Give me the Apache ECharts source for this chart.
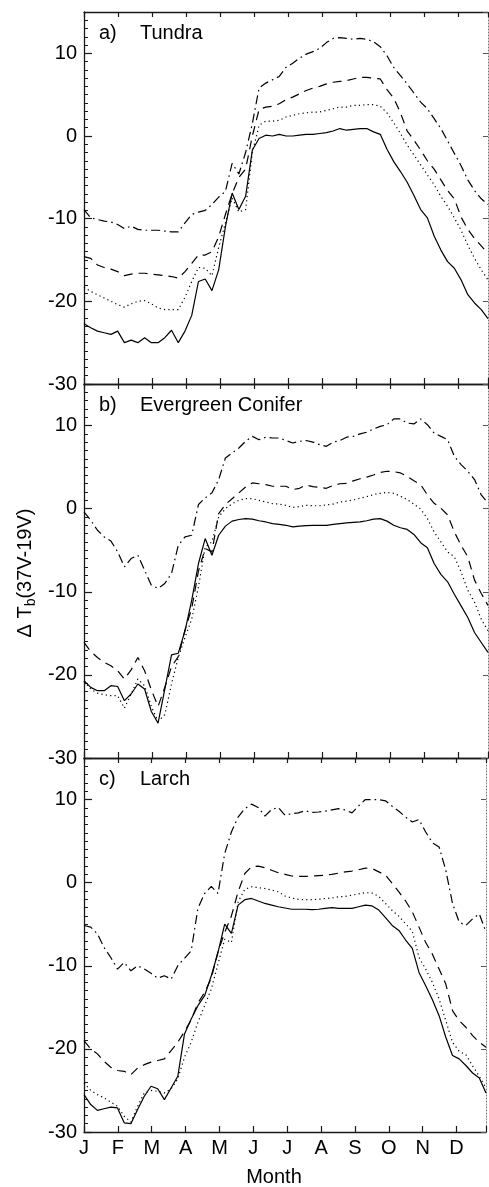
<!DOCTYPE html>
<html><head><meta charset="utf-8">
<script src="https://cdn.jsdelivr.net/npm/echarts@6/dist/echarts.min.js"></script>
<style>html,body{margin:0;padding:0;background:#fff}#c{width:489px;height:1187px}</style>
</head><body><div id="c"></div>
<script>
const days = [1,7,13,19,25,31,37,43,49,55,61,67,73,79,85,91,97,103,109,115,121,127,133,139,145,151,157,163,169,175,181,187,193,199,205,211,217,223,229,235,241,247,253,259,265,271,277,283,289,295,301,307,313,319,325,331,337,343,349,355,361];
const monthLabels = ['J','F','M','A','M','J','J','A','S','O','N','D'];
const panelLetters = ['a)','b)','c)'];
const panelNames = ['Tundra','Evergreen Conifer','Larch'];

const tundraSolid = [-22.7,-23.2,-23.6,-23.8,-24.0,-23.6,-25.0,-24.7,-25.0,-24.4,-25.0,-25.0,-24.4,-23.5,-25.0,-23.6,-21.7,-17.6,-17.3,-18.7,-16.2,-11.0,-6.9,-8.9,-7.3,-1.7,-0.3,0.1,0.0,0.2,0.0,0.0,0.1,0.2,0.2,0.3,0.4,0.6,0.9,0.7,0.8,0.9,0.9,0.5,0.2,-1.6,-3.1,-4.3,-5.6,-7.2,-8.9,-9.9,-12.1,-13.8,-15.2,-16.0,-17.4,-19.2,-20.2,-21.0,-22.1];
const tundraDotted = [-18.3,-18.8,-19.2,-19.6,-20.0,-20.4,-20.7,-20.3,-20.0,-19.9,-20.3,-20.8,-21.0,-21.0,-21.0,-19.5,-17.6,-15.9,-16.0,-16.9,-13.5,-10.5,-7.5,-9.2,-8.9,-2.0,1.3,1.8,1.8,1.9,2.3,2.5,2.7,2.8,2.9,2.9,3.1,3.3,3.5,3.5,3.7,3.7,3.8,3.8,3.6,2.8,1.6,0.3,-1.1,-2.3,-3.5,-4.7,-5.9,-7.3,-8.5,-9.9,-11.4,-13.2,-14.8,-16.2,-17.4];
const tundraDashed = [-14.6,-14.8,-15.6,-15.9,-16.1,-16.4,-16.9,-16.7,-16.6,-16.6,-16.7,-16.8,-16.9,-17.0,-17.2,-16.4,-15.4,-14.4,-14.4,-14.0,-12.2,-9.5,-7.0,-5.0,-4.0,0.0,3.2,3.5,3.6,3.9,4.4,4.7,5.1,5.5,5.8,6.0,6.3,6.5,6.6,6.7,6.9,7.1,7.1,7.0,6.9,5.6,4.6,2.8,0.6,-0.5,-1.7,-3.0,-4.0,-5.3,-6.6,-7.6,-9.8,-11.3,-12.4,-13.3,-14.2];
const tundraDashDot = [-8.9,-9.9,-10.1,-10.3,-10.4,-10.7,-11.2,-10.9,-11.3,-11.4,-11.4,-11.4,-11.5,-11.6,-11.6,-10.5,-9.5,-9.2,-9.0,-8.3,-7.4,-6.7,-3.3,-4.6,-2.0,1.5,5.8,6.4,6.8,7.2,8.3,8.8,9.4,9.9,10.2,10.6,11.3,11.8,11.9,11.8,11.7,11.8,11.7,11.4,10.8,9.7,8.3,7.3,6.3,5.2,4.1,3.3,2.1,0.9,-0.6,-2.1,-3.6,-5.3,-6.6,-7.6,-8.3];

const coniferSolid = [-20.7,-21.5,-21.9,-21.9,-21.3,-21.4,-23.1,-22.3,-21.1,-21.7,-24.4,-25.8,-21.7,-17.6,-17.4,-14.7,-11.0,-6.6,-3.6,-5.6,-3.2,-2.1,-1.5,-1.3,-1.2,-1.25,-1.45,-1.6,-1.8,-1.9,-2.0,-2.2,-2.1,-2.05,-2.0,-2.0,-2.0,-1.9,-1.8,-1.7,-1.65,-1.6,-1.45,-1.25,-1.2,-1.5,-2.0,-2.3,-2.5,-3.1,-4.1,-4.7,-6.6,-7.9,-8.8,-10.3,-11.7,-13.1,-14.9,-16.1,-17.3];
const coniferDotted = [-20.8,-21.7,-22.2,-22.4,-22.5,-22.5,-24.0,-22.3,-20.5,-21.3,-23.8,-25.6,-24.8,-21.1,-17.9,-15.5,-13.3,-9.4,-4.6,-4.0,-1.0,0.0,0.6,1.0,1.2,1.2,1.0,0.8,0.6,0.55,0.4,0.15,0.25,0.4,0.35,0.35,0.45,0.55,0.8,0.9,1.05,1.25,1.45,1.7,1.85,1.95,1.85,1.5,1.1,0.55,-0.05,-1.2,-2.8,-4.0,-5.2,-5.8,-7.6,-9.8,-11.25,-13.3,-14.7];
const coniferDashed = [-16.1,-17.2,-17.9,-18.5,-18.9,-19.5,-20.5,-19.4,-17.9,-19.5,-21.8,-23.8,-21.5,-19.0,-17.8,-14.6,-12.0,-7.5,-4.8,-5.2,-0.6,0.5,1.2,1.9,2.6,3.1,3.0,2.9,2.7,2.7,2.7,2.3,2.45,2.85,2.65,2.55,2.45,2.8,3.0,3.05,3.35,3.6,3.8,4.05,4.35,4.5,4.45,4.3,3.9,3.35,2.9,1.65,0.65,0.05,-0.75,-2.8,-4.4,-5.8,-8.6,-10.2,-11.65];
const coniferDashDot = [-0.4,-1.4,-2.6,-3.4,-3.9,-5.2,-7.0,-6.0,-5.6,-7.4,-9.2,-9.6,-9.0,-7.8,-4.4,-3.4,-3.2,0.5,1.3,1.9,3.5,6.1,6.7,7.3,8.1,8.7,8.3,8.6,8.5,8.5,8.2,7.9,8.1,8.2,8.0,7.7,7.5,8.0,8.2,8.6,8.7,9.0,9.2,9.6,9.9,10.1,10.8,10.8,10.3,10.2,10.8,10.1,9.1,8.7,8.3,6.3,5.3,4.5,3.5,1.65,0.65];

const larchSolid = [-25.5,-26.7,-27.4,-27.2,-27.0,-27.1,-28.9,-29.0,-27.3,-25.7,-24.5,-24.8,-26.1,-24.7,-23.3,-18.2,-16.4,-14.8,-13.6,-11.2,-8.4,-5.0,-6.1,-2.7,-2.05,-1.9,-2.2,-2.5,-2.7,-2.9,-3.05,-3.2,-3.2,-3.2,-3.25,-3.2,-3.1,-3.0,-3.1,-3.1,-3.1,-2.9,-2.7,-2.8,-3.3,-4.2,-5.15,-5.75,-6.9,-7.9,-10.8,-12.4,-14.1,-16.0,-18.6,-20.8,-21.2,-22.0,-22.9,-23.5,-25.3];
const larchDotted = [-24.1,-25.0,-25.5,-25.9,-26.4,-26.9,-28.1,-28.8,-26.9,-25.3,-25.0,-25.1,-25.3,-24.8,-23.6,-21.0,-19.2,-16.8,-14.8,-12.8,-9.8,-6.8,-7.2,-2.3,-0.8,-0.5,-0.6,-0.7,-0.9,-1.1,-1.6,-1.85,-2.0,-2.05,-2.05,-2.0,-1.9,-1.85,-1.7,-1.65,-1.5,-1.35,-1.2,-1.25,-1.65,-2.5,-3.35,-4.05,-4.95,-5.85,-9.0,-10.4,-12.0,-14.0,-16.6,-19.2,-20.3,-20.7,-22.05,-23.3,-24.7];
const larchDashed = [-19.0,-20.0,-20.6,-21.5,-22.2,-22.6,-22.7,-23.1,-22.3,-21.9,-21.6,-21.4,-21.2,-20.2,-19.2,-17.9,-16.5,-14.5,-13.2,-11.5,-8.3,-6.0,-4.0,-1.1,1.1,1.9,2.0,1.8,1.5,1.2,1.0,0.8,0.75,0.75,0.8,0.85,0.9,1.0,1.15,1.3,1.4,1.55,1.75,1.7,1.3,0.9,-0.1,-1.1,-2.2,-3.5,-5.35,-7.2,-8.6,-10.4,-12.2,-15.4,-16.6,-17.4,-18.4,-19.2,-19.8];
const larchDashDot = [-5.15,-5.35,-6.15,-7.8,-9.0,-10.4,-9.6,-10.6,-10.0,-10.4,-10.9,-11.5,-11.2,-11.6,-10.0,-9.1,-8.2,-3.1,-1.3,-0.45,-1.3,3.5,6.1,7.9,8.9,9.45,9.05,8.0,8.8,9.05,8.1,8.3,8.4,8.65,8.45,8.5,8.6,8.75,8.9,8.75,8.4,9.25,10.0,10.0,10.0,9.85,9.2,8.6,7.9,7.3,7.6,6.1,4.8,4.3,1.5,-2.5,-4.75,-5.15,-4.35,-3.75,-5.95];

const panels = [
  [tundraSolid, tundraDotted, tundraDashed, tundraDashDot],
  [coniferSolid, coniferDotted, coniferDashed, coniferDashDot],
  [larchSolid, larchDotted, larchDashed, larchDashDot]
];

const FONT = '"Liberation Sans", Arial, Helvetica, sans-serif';
const AX = '#1a1a1a';
const lineTypes = ['solid', [1.2, 3.2], [9, 6], [9, 4, 1.6, 4]];
const gridTops = [12, 384, 758];
const gridHeights = [372, 374, 374];

const grid = [], xAxis = [], yAxis = [], series = [], graphic = [];
gridTops.forEach((top, g) => {
  grid.push({left: 84, right: 1, top: top, height: gridHeights[g]});
  // hidden data axis (days)
  xAxis.push({gridIndex: g, type: 'value', min: 1, max: 361, show: false});
  // bottom month axis
  xAxis.push({
    gridIndex: g, type: 'value', position: 'bottom', min: 0, max: 11.87, interval: 1,
    axisLine: {show: true, onZero: false, lineStyle: {color: AX, width: 1.3}},
    axisTick: {show: true, inside: true, length: 6, lineStyle: {color: AX, width: 1.2}},
    axisLabel: {show: g === 2, margin: 6, fontSize: 20, fontFamily: FONT, color: '#000',
      formatter: v => (Number.isInteger(v) ? (monthLabels[v] || '') : '')},
    splitLine: {show: false}
  });
  // top month axis
  xAxis.push({
    gridIndex: g, type: 'value', position: 'top', min: 0, max: 11.87, interval: 1,
    axisLine: {show: true, onZero: false, lineStyle: {color: AX, width: 1.3}},
    axisTick: {show: true, inside: true, length: 5, lineStyle: {color: AX, width: 1.2}},
    axisLabel: {show: false}, splitLine: {show: false}
  });
  yAxis.push({
    gridIndex: g, type: 'value', position: 'left', min: -30, max: 15, interval: 10,
    axisLine: {show: true, onZero: false, lineStyle: {color: AX, width: 1.3}},
    axisTick: {show: true, inside: true, length: 8, lineStyle: {color: AX, width: 1.2}},
    axisLabel: {show: true, margin: 7, fontSize: 20, fontFamily: FONT, color: '#000', showMaxLabel: false},
    splitLine: {show: false}
  });
  yAxis.push({
    gridIndex: g, type: 'value', position: 'left', min: -30, max: 15, interval: 1,
    axisLine: {show: false},
    axisTick: {show: true, inside: true, length: 4, lineStyle: {color: AX, width: 1}},
    axisLabel: {show: false}, splitLine: {show: false}
  });
  yAxis.push({
    gridIndex: g, type: 'value', position: 'right', min: -30, max: 15, interval: 10,
    axisLine: {show: true, onZero: false, lineStyle: {color: '#777', width: 1, type: [1, 2]}},
    axisTick: {show: true, inside: true, length: 5, lineStyle: {color: '#555', width: 1}},
    axisLabel: {show: false}, splitLine: {show: false}
  });
  panels[g].forEach((vals, k) => {
    series.push({
      type: 'line', xAxisIndex: g * 3, yAxisIndex: g * 3,
      data: days.map((d, i) => [d, vals[i]]),
      showSymbol: false, silent: true, animation: false, clip: true,
      lineStyle: {color: '#000', width: 1.2, type: lineTypes[k], cap: 'butt'}
    });
  });
  graphic.push({type: 'text', x: 99, y: top + 21,
    style: {text: panelLetters[g], font: '20px ' + FONT, fill: '#000', verticalAlign: 'middle'}});
  graphic.push({type: 'text', x: 140, y: top + 21,
    style: {text: panelNames[g], font: '20px ' + FONT, fill: '#000', verticalAlign: 'middle'}});
});

graphic.push({type: 'text', x: 274, y: 1177,
  style: {text: 'Month', font: '20px ' + FONT, fill: '#000', align: 'center', verticalAlign: 'middle'}});
graphic.push({type: 'text', x: 25, y: 573, rotation: Math.PI / 2,
  style: {text: '{a|\u0394 T}{b|b}{a|(37V-19V)}', align: 'center', verticalAlign: 'middle',
    rich: {a: {fontSize: 20, fontFamily: FONT, fill: '#000', color: '#000'},
           b: {fontSize: 14, fontFamily: FONT, fill: '#000', color: '#000', padding: [12, 0, 0, 0]}}}});

const chart = echarts.init(document.getElementById('c'), null, {renderer: 'canvas'});
chart.setOption({animation: false, backgroundColor: '#fff', grid, xAxis, yAxis, series, graphic});
</script></body></html>
